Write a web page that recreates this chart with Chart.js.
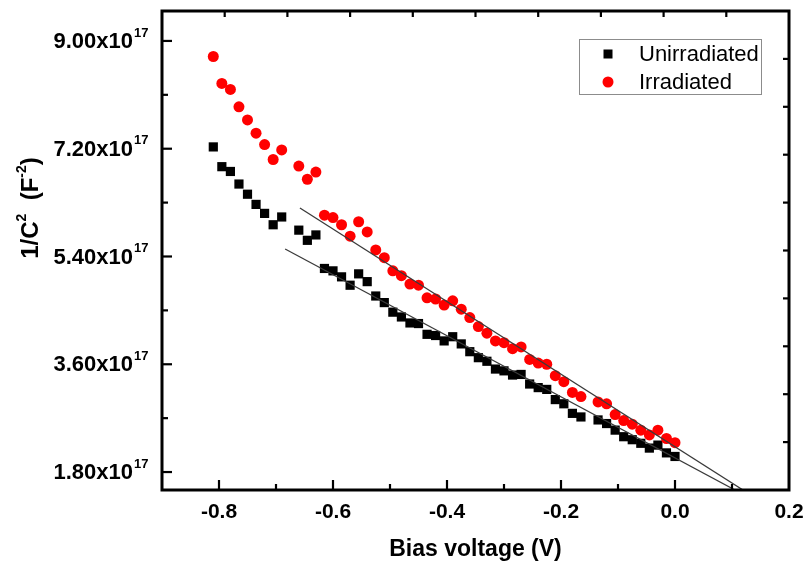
<!DOCTYPE html>
<html>
<head>
<meta charset="utf-8">
<script src="https://cdn.jsdelivr.net/npm/chart.js@4.4.1/dist/chart.umd.min.js"></script>
<style>
  html, body { margin: 0; padding: 0; background: #ffffff; }
  #wrap { width: 805px; height: 569px; }
</style>
</head>
<body>
<div id="wrap"><canvas id="c" width="805" height="569"></canvas></div>
<script>
// ---- data ----
const biasVoltage = [-0.81, -0.795, -0.78, -0.765, -0.75, -0.735, -0.72, -0.705, -0.69,
  -0.66, -0.645, -0.63, -0.615, -0.60, -0.585, -0.57, -0.555, -0.54, -0.525, -0.51,
  -0.495, -0.48, -0.465, -0.45, -0.435, -0.42, -0.405, -0.39, -0.375, -0.36, -0.345,
  -0.33, -0.315, -0.30, -0.285, -0.27, -0.255, -0.24, -0.225, -0.21, -0.195, -0.18,
  -0.165, -0.135, -0.12, -0.105, -0.09, -0.075, -0.06, -0.045, -0.03, -0.015, 0.0];

const unirradiated = [7.23e17, 6.90e17, 6.82e17, 6.61e17, 6.44e17, 6.27e17, 6.12e17, 5.93e17, 6.06e17,
  5.84e17, 5.67e17, 5.76e17, 5.20e17, 5.16e17, 5.06e17, 4.92e17, 5.11e17, 4.98e17, 4.74e17, 4.63e17,
  4.47e17, 4.39e17, 4.29e17, 4.28e17, 4.10e17, 4.08e17, 3.99e17, 4.06e17, 3.94e17, 3.81e17, 3.71e17,
  3.65e17, 3.52e17, 3.49e17, 3.42e17, 3.43e17, 3.27e17, 3.21e17, 3.18e17, 3.01e17, 2.94e17, 2.78e17,
  2.72e17, 2.67e17, 2.61e17, 2.50e17, 2.39e17, 2.34e17, 2.28e17, 2.20e17, 2.25e17, 2.12e17, 2.06e17];

const irradiated = [8.74e17, 8.29e17, 8.19e17, 7.90e17, 7.68e17, 7.46e17, 7.27e17, 7.02e17, 7.18e17,
  6.91e17, 6.69e17, 6.81e17, 6.09e17, 6.05e17, 5.93e17, 5.74e17, 5.98e17, 5.81e17, 5.51e17, 5.38e17,
  5.16e17, 5.08e17, 4.94e17, 4.92e17, 4.71e17, 4.69e17, 4.59e17, 4.66e17, 4.52e17, 4.38e17, 4.23e17,
  4.12e17, 3.99e17, 3.96e17, 3.86e17, 3.89e17, 3.68e17, 3.62e17, 3.60e17, 3.41e17, 3.31e17, 3.13e17,
  3.06e17, 2.97e17, 2.94e17, 2.76e17, 2.66e17, 2.60e17, 2.50e17, 2.42e17, 2.50e17, 2.36e17, 2.29e17];

// linear fit lines (end points)
const fitUnirrX = [-0.684, 0.1053];
const fitUnirrY = [5.525e17, 1.50e17];
const fitIrrX = [-0.658, 0.1193];
const fitIrrY = [6.21e17, 1.50e17];

const seriesNames = ['Unirradiated', 'Irradiated'];
// tick positions: major (labelled) and minor
const xMajorTicks = [-0.8, -0.6, -0.4, -0.2, 0.0, 0.2];
const xMinorTicks = [-0.9, -0.7, -0.5, -0.3, -0.1, 0.1];
const yMajorTicks = [1.8e17, 3.6e17, 5.4e17, 7.2e17, 9.0e17];
const yMinorTicks = [2.7e17, 4.5e17, 6.3e17, 8.1e17];
const yTickMantissa = ['1.80', '3.60', '5.40', '7.20', '9.00'];
const yTickExponent = '17';

const FONT = '"Liberation Sans", Arial, Helvetica, sans-serif';

function pts(xs, ys) { return xs.map((x, i) => ({ x: x, y: ys[i] })); }

// ---- plugin: frame, inward ticks, y labels with superscripts, y title, legend ----
const decor = {
  id: 'decor',
  afterDraw(chart) {
    const ctx = chart.ctx;
    const a = chart.chartArea;
    const xs = chart.scales.x, ys = chart.scales.y;
    ctx.save();
    // frame
    ctx.strokeStyle = '#000';
    ctx.lineWidth = 3;
    ctx.strokeRect(a.left, a.top, a.right - a.left, a.bottom - a.top);
    ctx.lineWidth = 2.2;
    // bottom ticks
    const xTick = (v, len) => {
      const px = xs.getPixelForValue(v);
      if (px <= a.left + 1 || px >= a.right - 1) return;
      ctx.beginPath(); ctx.moveTo(px, a.bottom); ctx.lineTo(px, a.bottom - len); ctx.stroke();
    };
    xMajorTicks.forEach(v => xTick(v, 10));
    xMinorTicks.forEach(v => xTick(v, 6));
    // left ticks
    const yTick = (v, len) => {
      const py = ys.getPixelForValue(v);
      if (py >= a.bottom - 1 || py <= a.top + 1) return;
      ctx.beginPath(); ctx.moveTo(a.left, py); ctx.lineTo(a.left + len, py); ctx.stroke();
    };
    yMajorTicks.forEach(v => yTick(v, 10));
    yMinorTicks.forEach(v => yTick(v, 6));
    // top & right ticks (10% divisions of the secondary 0..1 axes)
    const xt = chart.scales.x2, yt = chart.scales.y2;
    for (let i = 1; i < 10; i++) {
      const f = i / 10;
      const px = xt.getPixelForValue(f);
      ctx.beginPath(); ctx.moveTo(px, a.top); ctx.lineTo(px, a.top + 6); ctx.stroke();
      const py = yt.getPixelForValue(f);
      ctx.beginPath(); ctx.moveTo(a.right, py); ctx.lineTo(a.right - 6, py); ctx.stroke();
    }
    // y tick labels
    ctx.fillStyle = '#000';
    yMajorTicks.forEach((v, i) => {
      const py = ys.getPixelForValue(v);
      ctx.font = 'bold 22px ' + FONT;
      ctx.textAlign = 'right';
      ctx.textBaseline = 'middle';
      ctx.fillText(yTickMantissa[i] + 'x10', 133, py + 1);
      ctx.font = 'bold 13px ' + FONT;
      ctx.textAlign = 'left';
      ctx.fillText(yTickExponent, 134, py - 8);
    });
    // y title (rotated, with superscripts)
    ctx.save();
    ctx.translate(31, 208);
    ctx.rotate(-Math.PI / 2);
    const big = 'bold 24px ' + FONT, small = 'bold 14px ' + FONT;
    const parts = [
      { t: '1/C', f: big, dy: 0 },
      { t: '2', f: small, dy: -9 },
      { t: '  (F', f: big, dy: 0 },
      { t: '-2', f: small, dy: -9 },
      { t: ')', f: big, dy: 0 }
    ];
    let total = 0;
    parts.forEach(p => { ctx.font = p.f; p.w = ctx.measureText(p.t).width; total += p.w; });
    let cx = -total / 2;
    ctx.textAlign = 'left';
    ctx.textBaseline = 'middle';
    parts.forEach(p => { ctx.font = p.f; ctx.fillText(p.t, cx, p.dy); cx += p.w; });
    ctx.restore();
    // legend
    ctx.lineWidth = 1;
    ctx.strokeStyle = '#8c8c8c';
    ctx.strokeRect(579.5, 39.5, 182, 55);
    ctx.fillStyle = '#000';
    ctx.fillRect(603.5, 49.5, 9, 9);
    ctx.fillStyle = '#ff0000';
    ctx.beginPath(); ctx.arc(608, 82, 5.5, 0, Math.PI * 2); ctx.fill();
    ctx.fillStyle = '#000';
    ctx.font = '22px ' + FONT;
    ctx.textAlign = 'left';
    ctx.textBaseline = 'middle';
    ctx.fillText(seriesNames[0], 639, 55);
    ctx.fillText(seriesNames[1], 639, 83);
    ctx.restore();
  }
};

const chart = new Chart(document.getElementById('c'), {
  type: 'scatter',
  data: {
    datasets: [
      { type: 'line', label: 'fit-unirr', data: pts(fitUnirrX, fitUnirrY), borderColor: '#3a3a3a',
        borderWidth: 1.3, pointRadius: 0, fill: false, order: 0 },
      { type: 'line', label: 'fit-irr', data: pts(fitIrrX, fitIrrY), borderColor: '#3a3a3a',
        borderWidth: 1.3, pointRadius: 0, fill: false, order: 0 },
      { label: seriesNames[0], data: pts(biasVoltage, unirradiated), pointStyle: 'rect',
        pointRadius: 6.5, backgroundColor: '#000000', borderColor: '#000000', borderWidth: 0, order: 2 },
      { label: seriesNames[1], data: pts(biasVoltage, irradiated), pointStyle: 'circle',
        pointRadius: 5.5, backgroundColor: '#ff0000', borderColor: '#ff0000', borderWidth: 0, order: 1 }
    ]
  },
  options: {
    responsive: false,
    devicePixelRatio: 1,
    animation: false,
    layout: { padding: { top: 11, right: 16, left: 0, bottom: 0 } },
    plugins: { legend: { display: false }, tooltip: { enabled: false }, title: { display: false } },
    scales: {
      x: {
        type: 'linear', position: 'bottom', min: -0.9, max: 0.2,
        afterBuildTicks: (s) => { s.ticks = xMajorTicks.map(v => ({ value: v })); },
        ticks: {
          autoSkip: false, maxRotation: 0, padding: 10, color: '#000',
          font: { family: FONT, size: 21, weight: 'bold' },
          callback: (v) => Number(v).toFixed(1)
        },
        grid: { display: false, drawTicks: false },
        border: { display: false },
        title: { display: true, text: 'Bias voltage (V)', color: '#000',
          font: { family: FONT, size: 23, weight: 'bold' }, padding: { top: 0, bottom: 6 } },
        afterFit: (s) => { s.height = 79; s.paddingLeft = 0; s.paddingRight = 0; }
      },
      y: {
        type: 'linear', position: 'left', min: 1.5e17, max: 9.5e17,
        afterBuildTicks: (s) => { s.ticks = yMajorTicks.map(v => ({ value: v })); },
        ticks: { display: false },
        grid: { display: false, drawTicks: false },
        border: { display: false },
        afterFit: (s) => { s.width = 162; s.paddingTop = 0; s.paddingBottom = 0; }
      },
      x2: { type: 'linear', position: 'top', min: 0, max: 1, display: false },
      y2: { type: 'linear', position: 'right', min: 0, max: 1, display: false }
    }
  },
  plugins: [decor]
});
</script>
</body>
</html>
